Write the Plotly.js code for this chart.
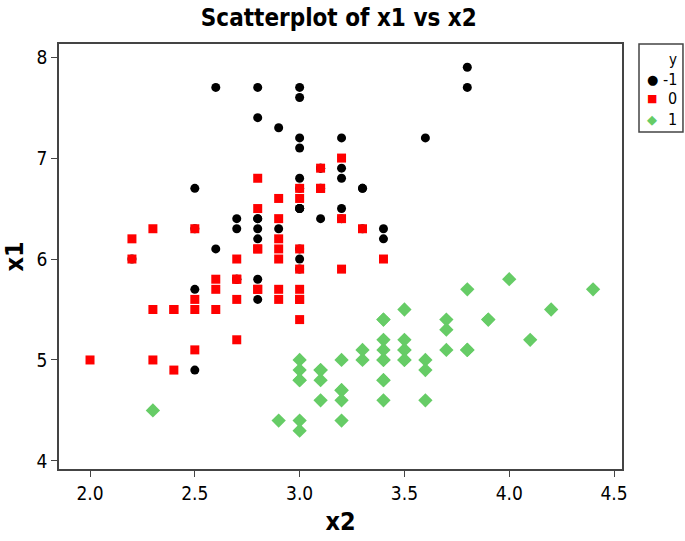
<!DOCTYPE html>
<html>
<head>
<meta charset="utf-8">
<script src="https://cdn.plot.ly/plotly-3.0.1.min.js"></script>
<style>
  html, body { margin: 0; padding: 0; background: #fff; }
  #graph { width: 685px; height: 541px; }
</style>
</head>
<body>
<div id="graph"></div>
<script>
// group -1
var x2_neg = [3.3, 2.7, 3.0, 2.9, 3.0, 3.0, 2.5, 2.9, 2.5, 3.6, 3.2, 2.7, 3.0, 2.5, 2.8, 3.2, 3.0, 3.8, 2.6, 2.2,
              3.2, 2.8, 2.8, 2.7, 3.3, 3.2, 2.8, 3.0, 2.8, 3.0, 2.8, 3.8, 2.8, 2.8, 2.6, 3.0, 3.4, 3.1, 3.0, 3.1,
              3.1, 3.1, 2.7, 3.2, 3.3, 3.0, 2.5, 3.0, 3.4, 3.0];
var x1_neg = [6.3, 5.8, 7.1, 6.3, 6.5, 7.6, 4.9, 7.3, 6.7, 7.2, 6.5, 6.4, 6.8, 5.7, 5.8, 6.4, 6.5, 7.7, 7.7, 6.0,
              6.9, 5.6, 7.7, 6.3, 6.7, 7.2, 6.2, 6.1, 6.4, 7.2, 7.4, 7.9, 6.4, 6.3, 6.1, 7.7, 6.3, 6.4, 6.0, 6.9,
              6.7, 6.9, 5.8, 6.8, 6.7, 6.7, 6.3, 6.5, 6.2, 5.9];

// group 0
var x2_zero = [3.2, 3.2, 3.1, 2.3, 2.8, 2.8, 3.3, 2.4, 2.9, 2.7, 2.0, 3.0, 2.2, 2.9, 2.9, 3.1, 3.0, 2.7, 2.2, 2.5,
               3.2, 2.8, 2.5, 2.8, 2.9, 3.0, 2.8, 3.0, 2.9, 2.6, 2.4, 2.4, 2.7, 2.7, 3.0, 3.4, 3.1, 2.3, 3.0, 2.5,
               2.6, 3.0, 2.6, 2.3, 2.7, 3.0, 2.9, 2.9, 2.5, 2.8];
var x1_zero = [7.0, 6.4, 6.9, 5.5, 6.5, 5.7, 6.3, 4.9, 6.6, 5.2, 5.0, 5.9, 6.0, 6.1, 5.6, 6.7, 5.6, 5.8, 6.2, 5.6,
               5.9, 6.1, 6.3, 6.1, 6.4, 6.6, 6.8, 6.7, 6.0, 5.7, 5.5, 5.5, 5.8, 6.0, 5.4, 6.0, 6.7, 6.3, 5.6, 5.5,
               5.5, 6.1, 5.8, 5.0, 5.6, 5.7, 5.7, 6.2, 5.1, 5.7];

// group 1
var x2_one = [3.5, 3.0, 3.2, 3.1, 3.6, 3.9, 3.4, 3.4, 2.9, 3.1, 3.7, 3.4, 3.0, 3.0, 4.0, 4.4, 3.9, 3.5, 3.8, 3.8,
              3.4, 3.7, 3.6, 3.3, 3.4, 3.0, 3.4, 3.5, 3.4, 3.2, 3.1, 3.4, 4.1, 4.2, 3.1, 3.2, 3.5, 3.6, 3.0, 3.4,
              3.5, 2.3, 3.2, 3.5, 3.8, 3.0, 3.8, 3.2, 3.7, 3.3];
var x1_one = [5.1, 4.9, 4.7, 4.6, 5.0, 5.4, 4.6, 5.0, 4.4, 4.9, 5.4, 4.8, 4.8, 4.3, 5.8, 5.7, 5.4, 5.1, 5.7, 5.1,
              5.4, 5.1, 4.6, 5.1, 4.8, 5.0, 5.0, 5.2, 5.2, 4.7, 4.8, 5.4, 5.2, 5.5, 4.9, 5.0, 5.5, 4.9, 4.4, 5.1,
              5.0, 4.5, 4.4, 5.0, 5.1, 4.8, 5.1, 4.6, 5.3, 5.0];

var groups = ['-1', '0', '1'];
var colors = ['#000000', '#ff0000', '#66cc66'];
var symbols = ['circle', 'square', 'diamond'];
var glyphs = ['\u25CF', '\u25A0', '\u25C6'];

var xs = [x2_neg, x2_zero, x2_one];
var ys = [x1_neg, x1_zero, x1_one];

var data = groups.map(function (g, i) {
    return {
        x: xs[i],
        y: ys[i],
        name: g,
        type: 'scatter',
        mode: 'markers',
        marker: { color: colors[i], symbol: symbols[i], size: i == 2 ? 11 : 9 },
    };
});

var font = 'DejaVu Sans Condensed, Liberation Sans Narrow, sans-serif';

// legend drawn by hand so it fits the narrow box at the right
var legendRows = [0.9153, 0.8706, 0.8235];
var annotations = [{
    text: 'y', xref: 'paper', yref: 'paper', x: 1.1013, y: 0.962,
    xanchor: 'right', yanchor: 'middle', showarrow: false,
    font: { family: font, size: 15 },
}];
groups.forEach(function (g, i) {
    annotations.push({
        text: glyphs[i], xref: 'paper', yref: 'paper', x: 1.0533, y: legendRows[i],
        xanchor: 'center', yanchor: 'middle', showarrow: false,
        font: { family: 'DejaVu Sans', size: i == 1 ? 11 : 13, color: colors[i] },
    });
    annotations.push({
        text: g, xref: 'paper', yref: 'paper', x: 1.1013, y: legendRows[i],
        xanchor: 'right', yanchor: 'middle', showarrow: false,
        font: { family: font, size: 16 },
    });
});

var layout = {
    width: 685,
    height: 541,
    margin: { l: 59, r: 63, t: 44, b: 72, autoexpand: false },
    paper_bgcolor: '#fff',
    plot_bgcolor: '#fff',
    font: { family: font, size: 19, color: '#000' },
    title: {
        text: '<b>Scatterplot of x1 vs x2</b>',
        font: { family: font, size: 24, color: '#000' },
        x: 0.497, xref: 'paper', xanchor: 'center',
        y: 0.968, yanchor: 'middle',
    },
    xaxis: {
        range: [1.852, 4.538],
        tickvals: [2.0, 2.5, 3.0, 3.5, 4.0, 4.5],
        ticktext: ['2.0', '2.5', '3.0', '3.5', '4.0', '4.5'],
        ticks: 'outside', ticklen: 6, tickcolor: '#444',
        showline: true, linecolor: '#444', linewidth: 1.5, mirror: true,
        showgrid: false, zeroline: false,
        title: { text: '<b>x2</b>', font: { family: font, size: 25 }, standoff: 10 },
    },
    yaxis: {
        range: [3.92, 8.13],
        tickvals: [4, 5, 6, 7, 8],
        ticks: 'outside', ticklen: 6, tickcolor: '#444',
        showline: true, linecolor: '#444', linewidth: 1.5, mirror: true,
        showgrid: false, zeroline: false,
        title: { text: '<b>x1</b>', font: { family: font, size: 25 }, standoff: 8 },
    },
    showlegend: false,
    shapes: [{
        type: 'rect', xref: 'paper', yref: 'paper',
        x0: 1.0302, x1: 1.1083, y0: 0.7929, y1: 1.0,
        line: { color: '#444', width: 1.5 },
    }],
    annotations: annotations,
};

Plotly.newPlot(document.getElementById('graph'), data, layout, { displayModeBar: false });
</script>
</body>
</html>
